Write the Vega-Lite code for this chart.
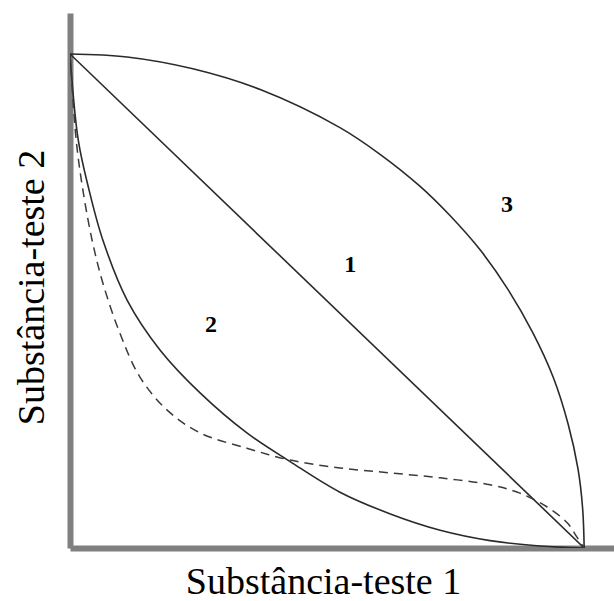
{
  "$schema": "https://vega.github.io/schema/vega-lite/v6.json",
  "width": 544,
  "height": 535,
  "autosize": "none",
  "padding": {"left": 70, "top": 13, "right": 0, "bottom": 53},
  "config": {
    "view": {"stroke": null},
    "font": "Liberation Serif",
    "axis": {
      "grid": false,
      "ticks": false,
      "labels": false,
      "domainColor": "#808080",
      "domainWidth": 6,
      "titleFont": "Liberation Serif",
      "titleFontSize": 38,
      "titleFontWeight": "normal",
      "titleColor": "#000000"
    }
  },
  "datasets": {
    "curves": [
      {"curve": "aditivo", "x": 0, "y": 1},
      {"curve": "aditivo", "x": 1, "y": 0},

      {"curve": "antagonismo", "x": 0, "y": 1},
      {"curve": "antagonismo", "x": 0.111, "y": 0.994},
      {"curve": "antagonismo", "x": 0.239, "y": 0.97},
      {"curve": "antagonismo", "x": 0.37, "y": 0.928},
      {"curve": "antagonismo", "x": 0.525, "y": 0.851},
      {"curve": "antagonismo", "x": 0.603, "y": 0.797},
      {"curve": "antagonismo", "x": 0.681, "y": 0.732},
      {"curve": "antagonismo", "x": 0.739, "y": 0.673},
      {"curve": "antagonismo", "x": 0.798, "y": 0.603},
      {"curve": "antagonismo", "x": 0.852, "y": 0.523},
      {"curve": "antagonismo", "x": 0.901, "y": 0.434},
      {"curve": "antagonismo", "x": 0.94, "y": 0.345},
      {"curve": "antagonismo", "x": 0.969, "y": 0.25},
      {"curve": "antagonismo", "x": 0.988, "y": 0.16},
      {"curve": "antagonismo", "x": 0.997, "y": 0.08},
      {"curve": "antagonismo", "x": 1, "y": 0},

      {"curve": "sinergismo", "x": 0, "y": 1},
      {"curve": "sinergismo", "x": 0.016, "y": 0.826},
      {"curve": "sinergismo", "x": 0.037, "y": 0.725},
      {"curve": "sinergismo", "x": 0.064, "y": 0.623},
      {"curve": "sinergismo", "x": 0.111, "y": 0.502},
      {"curve": "sinergismo", "x": 0.175, "y": 0.401},
      {"curve": "sinergismo", "x": 0.253, "y": 0.314},
      {"curve": "sinergismo", "x": 0.344, "y": 0.233},
      {"curve": "sinergismo", "x": 0.428, "y": 0.175},
      {"curve": "sinergismo", "x": 0.525, "y": 0.113},
      {"curve": "sinergismo", "x": 0.623, "y": 0.069},
      {"curve": "sinergismo", "x": 0.72, "y": 0.036},
      {"curve": "sinergismo", "x": 0.817, "y": 0.015},
      {"curve": "sinergismo", "x": 0.914, "y": 0.004},
      {"curve": "sinergismo", "x": 1, "y": 0},

      {"curve": "tracejada", "x": 0, "y": 1},
      {"curve": "tracejada", "x": 0.012, "y": 0.826},
      {"curve": "tracejada", "x": 0.025, "y": 0.725},
      {"curve": "tracejada", "x": 0.043, "y": 0.623},
      {"curve": "tracejada", "x": 0.064, "y": 0.536},
      {"curve": "tracejada", "x": 0.097, "y": 0.435},
      {"curve": "tracejada", "x": 0.136, "y": 0.346},
      {"curve": "tracejada", "x": 0.189, "y": 0.279},
      {"curve": "tracejada", "x": 0.253, "y": 0.233},
      {"curve": "tracejada", "x": 0.344, "y": 0.202},
      {"curve": "tracejada", "x": 0.428, "y": 0.178},
      {"curve": "tracejada", "x": 0.525, "y": 0.162},
      {"curve": "tracejada", "x": 0.623, "y": 0.152},
      {"curve": "tracejada", "x": 0.72, "y": 0.142},
      {"curve": "tracejada", "x": 0.817, "y": 0.128},
      {"curve": "tracejada", "x": 0.875, "y": 0.111},
      {"curve": "tracejada", "x": 0.928, "y": 0.083},
      {"curve": "tracejada", "x": 0.967, "y": 0.051},
      {"curve": "tracejada", "x": 0.986, "y": 0.022},
      {"curve": "tracejada", "x": 1, "y": 0}
    ],
    "labels": [
      {"label": "1", "x": 0.545, "y": 0.573},
      {"label": "2", "x": 0.274, "y": 0.451},
      {"label": "3", "x": 0.85, "y": 0.694}
    ]
  },
  "encoding": {
    "x": {
      "field": "x",
      "type": "quantitative",
      "scale": {"domain": [0, 1.058], "nice": false, "zero": false},
      "axis": {
        "title": "Substância-teste 1",
        "titleX": 253,
        "titleY": 45,
        "titleAlign": "center",
        "titleBaseline": "alphabetic"
      }
    },
    "y": {
      "field": "y",
      "type": "quantitative",
      "scale": {"domain": [0, 1.083], "nice": false, "zero": false},
      "axis": {
        "title": "Substância-teste 2",
        "titleX": -27,
        "titleY": 274,
        "titleAngle": 270,
        "titleAlign": "center",
        "titleBaseline": "alphabetic"
      }
    }
  },
  "layer": [
    {
      "data": {"name": "curves"},
      "transform": [{"filter": "datum.curve !== 'tracejada'"}],
      "mark": {"type": "line", "interpolate": "catmull-rom", "color": "#2a2a2a", "strokeWidth": 1.6, "clip": true},
      "encoding": {"detail": {"field": "curve"}, "order": {"field": "x", "type": "quantitative"}}
    },
    {
      "data": {"name": "curves"},
      "transform": [{"filter": "datum.curve === 'tracejada'"}],
      "mark": {"type": "line", "interpolate": "catmull-rom", "color": "#3a3a3a", "strokeWidth": 1.5, "strokeDash": [9, 6], "clip": true},
      "encoding": {"order": {"field": "x", "type": "quantitative"}}
    },
    {
      "data": {"name": "labels"},
      "mark": {"type": "text", "font": "Liberation Serif", "fontSize": 24, "fontWeight": "bold", "color": "#000000", "baseline": "middle", "align": "center"},
      "encoding": {"text": {"field": "label"}}
    }
  ]
}
